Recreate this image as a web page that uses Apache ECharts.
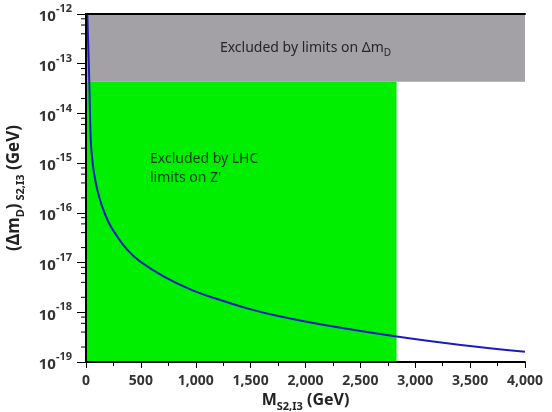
<!DOCTYPE html>
<html>
<head>
<meta charset="utf-8">
<title>Delta m_D vs M</title>
<script src="https://cdn.jsdelivr.net/npm/echarts@6/dist/echarts.min.js"></script>
<style>
	html,body{margin:0;padding:0;background:#fff;}
	#chart{width:552px;height:412px;}
</style>
</head>
<body>
<div id="chart"></div>
<script>
// 曲线数据
var massGeV = [12, 30, 43, 58, 73, 103, 149, 210, 286, 377, 493, 706, 950, 1163, 1468, 1772, 2198, 2831, 3415, 4000];
var deltaMD = [1e-12, 4.3e-14, 2.95e-15, 1.15e-15, 6.3e-16, 2.9e-16, 1.3e-16, 6.2e-17, 3.3e-17, 1.8e-17, 1.05e-17, 5.3e-18, 2.9e-18, 1.95e-18, 1.2e-18, 8.2e-19, 5.4e-19, 3.25e-19, 2.2e-19, 1.6e-19];
// 排除区域
var deltaMLimit = 4.35e-14;   // 灰色区域下边界
var lhcMassLimit = 2830;      // 绿色区域右边界
var xRange = [0, 4000];
var yRange = [1e-19, 1e-12];
// y轴次刻度 (每个数量级 2,4,6,8)
var minorMultipliers = [2, 4, 6, 8];
var decades = [-19, -18, -17, -16, -15, -14, -13];

var curveData = [];
for (var i = 0; i < massGeV.length; i++) {
	curveData.push([massGeV[i], deltaMD[i]]);
}
var minorTickData = [];
for (var d = 0; d < decades.length; d++) {
	for (var k = 0; k < minorMultipliers.length; k++) {
		minorTickData.push([0, minorMultipliers[k] * Math.pow(10, decades[d])]);
	}
}

var FONT = 'Noto Sans';
var chart = echarts.init(document.getElementById('chart'));

var option = {
	animation: false,
	textStyle: {fontFamily: FONT},
	grid: {left: 86, right: 27, top: 14, bottom: 50, outerBoundsMode: 'none', containLabel: false},
	xAxis: [{
		type: 'value',
		min: xRange[0],
		max: xRange[1],
		interval: 500,
		z: 5,
		axisLine: {show: true, lineStyle: {color: '#000', width: 2}},
		axisTick: {show: true, length: 6, lineStyle: {color: '#000', width: 1}},
		minorTick: {show: true, splitNumber: 2, length: 4, lineStyle: {color: '#000'}},
		splitLine: {show: false},
		axisLabel: {
			margin: 12,
			fontFamily: FONT,
			fontSize: 14,
			fontWeight: 'bold',
			color: '#333',
			formatter: function(v){
				return v.toLocaleString('en-US');
			}
		},
		name: '{n|M}{sub|S2,I3}{n| (GeV)}',
		nameLocation: 'middle',
		nameGap: 30,
		nameTextStyle: {
			rich: {
				n: {fontFamily: FONT, fontSize: 16, fontWeight: 'bold', color: '#222', padding: [0, 0, 3, 0]},
				sub: {fontFamily: FONT, fontSize: 11, fontWeight: 'bold', color: '#222', verticalAlign: 'bottom'}
			}
		}
	}, {
		// 上边框
		type: 'value',
		position: 'top',
		min: xRange[0],
		max: xRange[1],
		z: 5,
		axisLine: {show: true, lineStyle: {color: '#000', width: 2}},
		axisTick: {show: false},
		axisLabel: {show: false},
		splitLine: {show: false}
	}],
	yAxis: [{
		type: 'log',
		logBase: 10,
		min: yRange[0],
		max: yRange[1],
		interval: 1,
		z: 5,
		axisLine: {show: true, lineStyle: {color: '#000', width: 2}},
		axisTick: {show: true, length: 9, lineStyle: {color: '#000', width: 1}},
		splitLine: {show: false},
		axisLabel: {
			margin: 14,
			formatter: function(v){
				var p = Math.round(Math.log(v) / Math.LN10);
				return '{b|10}{s|' + p + '}';
			},
			rich: {
				b: {fontFamily: FONT, fontSize: 15, fontWeight: 'bold', color: '#333', padding: [6, 0, 0, 0]},
				s: {fontFamily: FONT, fontSize: 11, fontWeight: 'bold', color: '#333', verticalAlign: 'top'}
			}
		},
		name: '{n|(Δm}{sub|D}{n|)}{sub| S2,I3}{n| (GeV)}',
		nameLocation: 'middle',
		nameRotate: 90,
		nameGap: 60,
		nameTextStyle: {
			rich: {
				n: {fontFamily: FONT, fontSize: 17, fontWeight: 'bold', color: '#222', padding: [0, 0, 3, 0]},
				sub: {fontFamily: FONT, fontSize: 11, fontWeight: 'bold', color: '#222', verticalAlign: 'bottom'}
			}
		}
	}, {
		// 右边框
		type: 'log',
		logBase: 10,
		position: 'right',
		min: yRange[0],
		max: yRange[1],
		z: 5,
		axisLine: {show: true, lineStyle: {color: '#000', width: 2}},
		axisTick: {show: false},
		axisLabel: {show: false},
		splitLine: {show: false}
	}],
	series: [{
		name: 'regions',
		type: 'line',
		data: [],
		markArea: {
			silent: true,
			data: [
				[{
					xAxis: xRange[0], yAxis: deltaMLimit,
					itemStyle: {color: '#a3a1a6'},
					label: {
						show: true,
						position: 'inside',
						offset: [0, 2],
						formatter: '{a|Excluded by limits on Δm}{d|D}',
						rich: {
							a: {fontFamily: FONT, fontSize: 14, color: '#262626', padding: [0, 0, 3, 0]},
							d: {fontFamily: FONT, fontSize: 10, color: '#262626', verticalAlign: 'bottom'}
						}
					}
				}, {xAxis: xRange[1], yAxis: yRange[1]}],
				[{
					xAxis: xRange[0], yAxis: yRange[0],
					itemStyle: {color: '#00ee00'},
					label: {
						show: true,
						position: [64, 68],
						formatter: 'Excluded by LHC\nlimits on Z\'',
						fontFamily: FONT,
						fontSize: 14,
						lineHeight: 19,
						color: '#103a10',
						align: 'left'
					}
				}, {xAxis: lhcMassLimit, yAxis: deltaMLimit}]
			]
		}
	}, {
		name: 'curve',
		type: 'line',
		data: curveData,
		smooth: 0.4,
		showSymbol: false,
		clip: true,
		z: 4,
		lineStyle: {color: '#1c1cbc', width: 2}
	}, {
		// y轴次刻度 (对数间隔)
		name: 'minorTicks',
		type: 'custom',
		silent: true,
		z: 6,
		data: minorTickData,
		renderItem: function(params, api){
			var pt = api.coord([api.value(0), api.value(1)]);
			return {
				type: 'line',
				shape: {x1: pt[0] - 5, y1: pt[1], x2: pt[0], y2: pt[1]},
				style: {stroke: '#000', lineWidth: 1}
			};
		}
	}]
};
chart.setOption(option);
</script>
</body>
</html>
